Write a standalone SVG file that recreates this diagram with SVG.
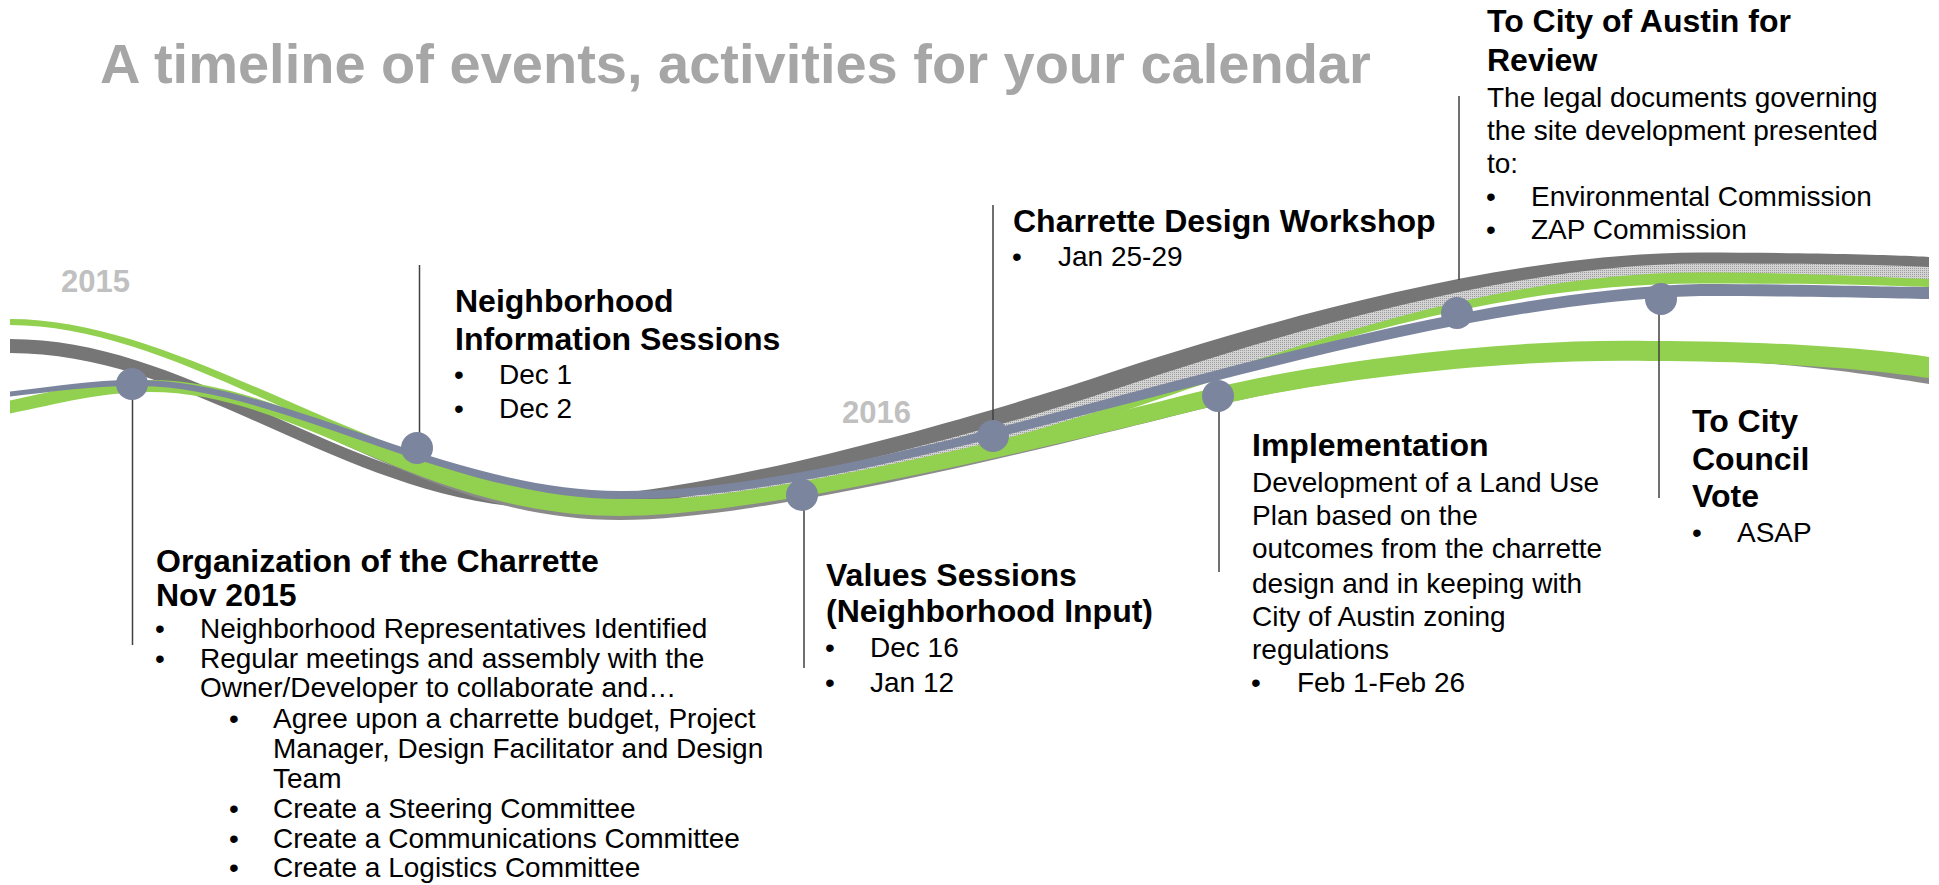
<svg xmlns="http://www.w3.org/2000/svg" width="1939" height="885" viewBox="0 0 1939 885">
  <style>
    .title { font: bold 56px "Liberation Sans", Arial, sans-serif; fill: #a6a6a6; }
    .year { font: bold 31px "Liberation Sans", Arial, sans-serif; fill: #c0c0c0; }
    .h { font: bold 32px "Liberation Sans", Arial, sans-serif; fill: #000; }
    .t { font: 28px "Liberation Sans", Arial, sans-serif; fill: #000; }
    .dot { fill: #7c859e; }
    .lead { stroke: #404040; stroke-width: 1.5; fill: none; }
    .green { fill: #92d050; }
    .dark { fill: #767676; }
  </style>
  <defs>
    <pattern id="stipple" width="2" height="2" patternUnits="userSpaceOnUse">
      <rect width="2" height="2" fill="#d4d4d4"/>
      <rect width="1" height="1" fill="#9c9c9c"/>
    </pattern>
  </defs>

  <rect width="1939" height="885" fill="#fff"/>

  <text class="title" x="100" y="83">A timeline of events, activities for your calendar</text>
  <text class="year" x="61" y="292">2015</text>
  <text class="year" x="842" y="423">2016</text>

  <!-- swooping timeline ribbons -->
  <g id="timeline">
    <!-- textured band under the upper grey ribbon -->
    <path fill="url(#stipple)" d="M560,503 C700,503 980,425 1100,385 C1250,335 1500,258 1700,258 C1800,258 1900,260 1929,262 L1929,283 C1880,281 1800,278 1700,278 C1550,278 1400,315 1250,365 C1100,415 850,505 640,505 Z"/>
    <!-- upper grey ribbon -->
    <path class="dark" d="M10,339 C200,339 350,497 560,497 C700,497 980,416 1100,376 C1250,326 1500,252.5 1700,252.5 C1800,252.5 1900,255 1929,257 L1929,267 C1900,265 1800,263.5 1700,263.5 C1500,263.5 1250,344 1100,394 C980,434 700,509 560,509 C350,509 200,353 10,353 Z"/>
    <!-- thin grey shadow below the lower green ribbon -->
    <path fill="#8a8a8a" d="M150,386 C300,386 420,509 620,509 C780,509 1118,420 1218,396 C1318,372 1500,348 1650,351 C1780,351 1880,360 1929,367.5 L1929,384 C1880,376 1780,359 1650,359 C1500,356 1318,381 1218,405 C1118,429 780,520 620,520 C420,520 300,389 150,389 Z"/>
    <!-- lower green ribbon -->
    <path class="green" d="M10,400.5 C60,389.5 100,380 150,380 C300,380 420,502 620,502 C780,502 1118,411 1218,387 C1318,363 1500,338 1650,341 C1780,341 1880,349.5 1929,357 L1929,378 C1880,370.5 1780,361 1650,361 C1500,358 1318,381 1218,405 C1118,429 780,516 620,516 C420,516 300,392 150,392 C100,392 60,403.5 10,413.5 Z"/>
    <!-- upper green ribbon -->
    <path class="green" d="M10,319 C200,319 400,499 640,499 C850,499 1100,411 1250,362 C1400,312 1550,272.5 1700,272.5 C1800,272.5 1880,277 1929,279 L1929,287 C1880,285 1800,283.5 1700,283.5 C1550,283.5 1400,318 1250,368 C1100,419 850,511 640,511 C400,511 200,325 10,325 Z"/>
    <!-- slate ribbon carrying the milestones -->
    <path class="dot" d="M10,391.5 C60,385.5 100,379 140,380 C280,381 450,491 620,491 C900,493 1350,294 1700,284 C1800,284 1880,287 1929,287 L1929,299 C1880,298 1800,296 1700,296 C1350,306 900,501 620,499 C450,499 280,387 140,386 C100,385 60,390.5 10,396.5 Z"/>
  </g>

  <!-- leader lines from milestones to their notes -->
  <g id="connectors">
    <line class="lead" x1="132.5" y1="384" x2="132.5" y2="645"/>
    <line class="lead" x1="419.5" y1="265" x2="419.5" y2="448"/>
    <line class="lead" x1="804" y1="495" x2="804" y2="668"/>
    <line class="lead" x1="993" y1="205" x2="993" y2="436"/>
    <line class="lead" x1="1219" y1="396" x2="1219" y2="572"/>
    <line class="lead" x1="1459" y1="96" x2="1459" y2="280"/>
    <line class="lead" x1="1659" y1="299" x2="1659" y2="498"/>
  </g>

  <g id="organization">
    <circle class="dot" cx="132" cy="384" r="16"/>
    <text class="h" x="156" y="572">Organization of the Charrette</text>
    <text class="h" x="156" y="606">Nov 2015</text>
    <text class="t" x="155" y="638">•</text>
    <text class="t" x="200" y="638">Neighborhood Representatives Identified</text>
    <text class="t" x="155" y="668">•</text>
    <text class="t" x="200" y="668">Regular meetings and assembly with the</text>
    <text class="t" x="200" y="697">Owner/Developer to collaborate and…</text>
    <text class="t" x="229" y="728">•</text>
    <text class="t" x="273" y="728">Agree upon a charrette budget, Project</text>
    <text class="t" x="273" y="758">Manager, Design Facilitator and Design</text>
    <text class="t" x="273" y="788">Team</text>
    <text class="t" x="229" y="818">•</text>
    <text class="t" x="273" y="818">Create a Steering Committee</text>
    <text class="t" x="229" y="848">•</text>
    <text class="t" x="273" y="848">Create a Communications Committee</text>
    <text class="t" x="229" y="877">•</text>
    <text class="t" x="273" y="877">Create a Logistics Committee</text>
  </g>

  <g id="info-sessions">
    <circle class="dot" cx="417" cy="448" r="16"/>
    <text class="h" x="455" y="312">Neighborhood</text>
    <text class="h" x="455" y="350">Information Sessions</text>
    <text class="t" x="454" y="384">•</text>
    <text class="t" x="499" y="384">Dec 1</text>
    <text class="t" x="454" y="418">•</text>
    <text class="t" x="499" y="418">Dec 2</text>
  </g>

  <g id="values-sessions">
    <circle class="dot" cx="802" cy="495" r="16"/>
    <text class="h" x="826" y="586">Values Sessions</text>
    <text class="h" x="826" y="622">(Neighborhood Input)</text>
    <text class="t" x="825" y="657">•</text>
    <text class="t" x="870" y="657">Dec 16</text>
    <text class="t" x="825" y="692">•</text>
    <text class="t" x="870" y="692">Jan 12</text>
  </g>

  <g id="design-workshop">
    <circle class="dot" cx="993" cy="436" r="16"/>
    <text class="h" x="1013" y="232">Charrette Design Workshop</text>
    <text class="t" x="1012" y="266">•</text>
    <text class="t" x="1058" y="266">Jan 25-29</text>
  </g>

  <g id="implementation">
    <circle class="dot" cx="1218" cy="396" r="16"/>
    <text class="h" x="1252" y="456">Implementation</text>
    <text class="t" x="1252" y="492">Development of a Land Use</text>
    <text class="t" x="1252" y="525">Plan based on the</text>
    <text class="t" x="1252" y="558">outcomes from the charrette</text>
    <text class="t" x="1252" y="593">design and in keeping with</text>
    <text class="t" x="1252" y="626">City of Austin zoning</text>
    <text class="t" x="1252" y="659">regulations</text>
    <text class="t" x="1251" y="692">•</text>
    <text class="t" x="1297" y="692">Feb 1-Feb 26</text>
  </g>

  <g id="city-review">
    <circle class="dot" cx="1457" cy="313" r="16"/>
    <text class="h" x="1487" y="32">To City of Austin for</text>
    <text class="h" x="1487" y="71">Review</text>
    <text class="t" x="1487" y="107">The legal documents governing</text>
    <text class="t" x="1487" y="140">the site development presented</text>
    <text class="t" x="1487" y="173">to:</text>
    <text class="t" x="1486" y="206">•</text>
    <text class="t" x="1531" y="206">Environmental Commission</text>
    <text class="t" x="1486" y="239">•</text>
    <text class="t" x="1531" y="239">ZAP Commission</text>
  </g>

  <g id="council-vote">
    <circle class="dot" cx="1661" cy="299" r="16"/>
    <text class="h" x="1692" y="432">To City</text>
    <text class="h" x="1692" y="470">Council</text>
    <text class="h" x="1692" y="507">Vote</text>
    <text class="t" x="1692" y="542">•</text>
    <text class="t" x="1737" y="542">ASAP</text>
  </g>
</svg>
